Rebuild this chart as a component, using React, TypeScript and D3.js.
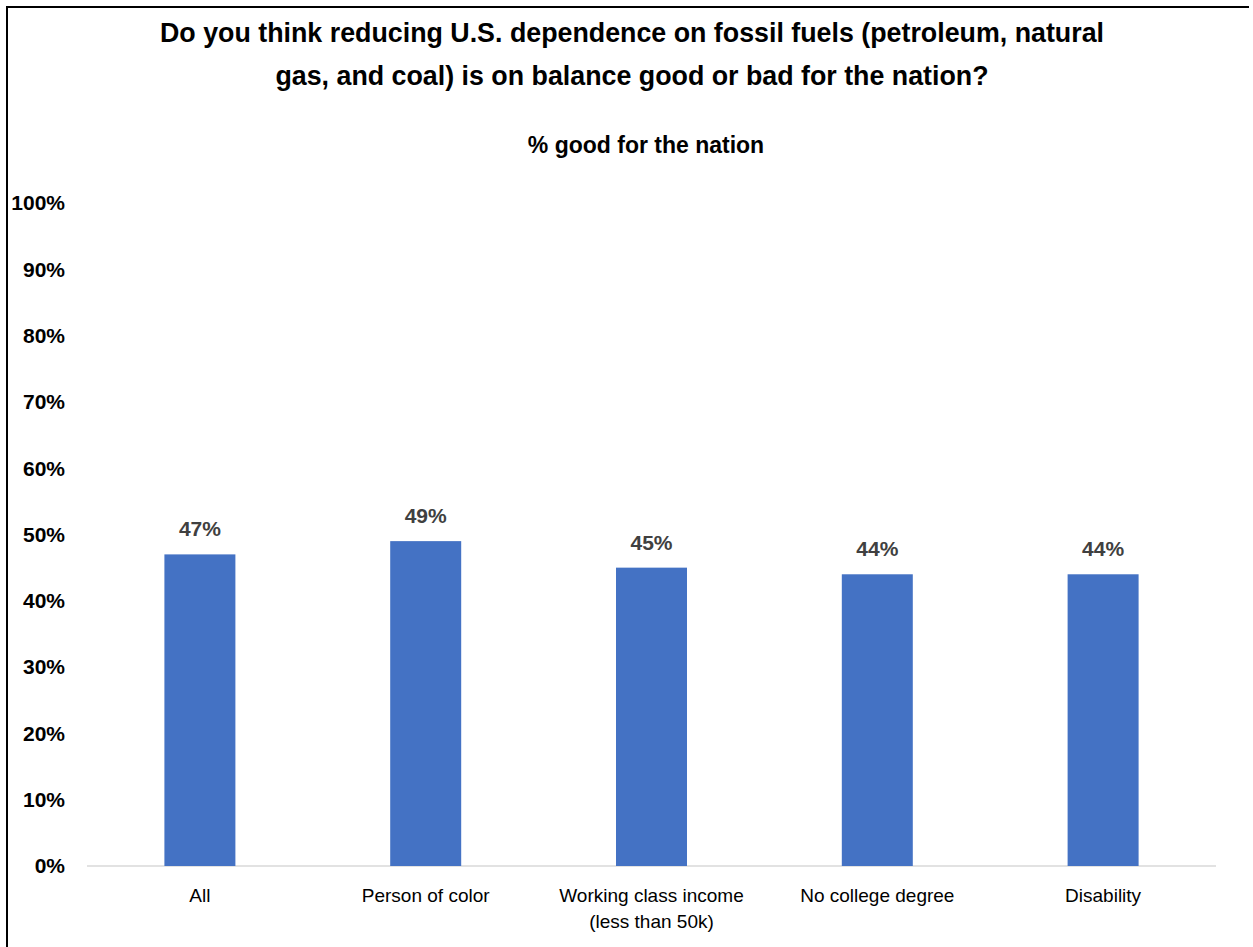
import React from "react";
import * as d3 from "d3";

const titleLines = [
  "Do you think reducing U.S. dependence on fossil fuels (petroleum, natural",
  "gas, and coal) is on balance good or bad for the nation?",
];
const subtitle = "% good for the nation";
const categories = ["All", "Person of color", "Working class income\n(less than 50k)", "No college degree", "Disability"];
const values = [0.47, 0.49, 0.45, 0.44, 0.44];
const yTicks = [0, 0.1, 0.2, 0.3, 0.4, 0.5, 0.6, 0.7, 0.8, 0.9, 1.0];

const W = 1253;
const H = 947;
const FONT = "'Liberation Sans', Arial, sans-serif";

export default function App() {
  const x = d3.scaleBand<string>().domain(categories).range([87, 1216]).paddingInner(0.6856).paddingOuter(0.3428);
  const y = d3.scaleLinear().domain([0, 1]).range([866, 203]);
  const pct = d3.format(".0%");
  return (
    <svg width={W} height={H} style={{ position: "absolute", left: 0, top: 0, background: "#fff" }} fontFamily={FONT}>
      <rect x={0} y={0} width={W} height={H} fill="#fff" />
      <path d={`M7,${H} V7 H1249`} fill="none" stroke="#000" strokeWidth={2} />
      {titleLines.map((t, i) => (
        <text key={i} x={632} y={42 + i * 43} textAnchor="middle" fontSize={26.8} fontWeight="bold" fill="#000">
          {t}
        </text>
      ))}
      <text x={646} y={153} textAnchor="middle" fontSize={23} fontWeight="bold" fill="#000">
        {subtitle}
      </text>
      {yTicks.map((t) => (
        <text key={t} x={65} y={y(t)} dy="0.35em" textAnchor="end" fontSize={21} fontWeight="bold" fill="#000">
          {pct(t)}
        </text>
      ))}
      <line x1={87} x2={1216} y1={y(0)} y2={y(0)} stroke="#D9D9D9" strokeWidth={1.5} />
      {categories.map((c, i) => (
        <g key={c}>
          <rect x={x(c)} y={y(values[i])} width={x.bandwidth()} height={y(0) - y(values[i])} fill="#4472C4" />
          <text x={(x(c) as number) + x.bandwidth() / 2} y={y(values[i]) - 18} textAnchor="middle" fontSize={21} fontWeight="bold" fill="#404040">
            {pct(values[i])}
          </text>
          {c.split("\n").map((ln, j) => (
            <text key={j} x={(x(c) as number) + x.bandwidth() / 2} y={902 + j * 26} textAnchor="middle" fontSize={19} fill="#000">
              {ln}
            </text>
          ))}
        </g>
      ))}
    </svg>
  );
}
